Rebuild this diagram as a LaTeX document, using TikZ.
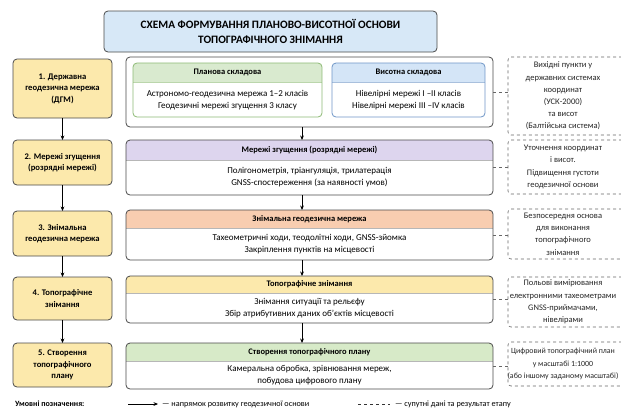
\documentclass[tikz,border=0pt]{standalone}
\usepackage{fontspec}
\setmainfont{Carlito}
\usetikzlibrary{arrows.meta,backgrounds,calc}
\definecolor{bordc}{HTML}{4A4A4A}
\definecolor{dashc}{HTML}{666666}
\definecolor{yel}{HTML}{FCE9AC}
\definecolor{titleblue}{HTML}{D7E8F7}
\definecolor{grhdr}{HTML}{D9EACF}
\definecolor{grbord}{HTML}{8DBA75}
\definecolor{blhdr}{HTML}{D4E5F7}
\definecolor{blbord}{HTML}{6F96C7}
\definecolor{puhdr}{HTML}{DDD5EE}
\definecolor{orhdr}{HTML}{F8CDB0}
\definecolor{yehdr}{HTML}{FCE9AC}
\definecolor{gehdr}{HTML}{D7EAC8}
\newcommand{\headband}[4]{%
  \begin{scope}[on background layer]
    \begin{scope}
    \clip[rounded corners=4pt] (#1.north west) rectangle (#1.south east);
    \fill[#3] (#1.north west) rectangle ($(#1.north east)+(0,#2)$);
    \draw[#4, line width=0.5pt] ($(#1.north west)+(0,#2)$) -- ($(#1.north east)+(0,#2)$);
    \end{scope}
  \end{scope}}
\begin{document}
\begin{tikzpicture}[x=1pt,y=-1pt,
  frame/.style={draw=bordc, line width=0.8pt, rounded corners=4pt, inner sep=0pt, outer sep=0pt},
  leftbox/.style={frame, fill=yel, minimum width=99pt, font=\bfseries\fontsize{8.6}{11.5}\selectfont, align=center},
  midbox/.style={frame, minimum width=367pt},
  hdr/.style={font=\bfseries\fontsize{8.5}{10}\selectfont, inner sep=0pt},
  body/.style={font=\fontsize{9}{12}\selectfont, align=center, inner sep=0pt},
  note/.style={font=\fontsize{8.5}{12.2}\selectfont, align=center, inner sep=0pt, text=black!85},
  dbox/.style={draw=dashc, dashed, line width=0.6pt, rounded corners=3pt, minimum width=117pt, inner sep=0pt, outer sep=0pt},
  flow/.style={-{Stealth[length=4.5pt,width=3.8pt]}, line width=0.9pt},
  link/.style={draw=dashc, dashed, line width=0.6pt},
  legend/.style={font=\fontsize{8.2}{9}\selectfont, inner sep=0pt}
]
\begin{scope}[on background layer]
\fill[white] (0,0) rectangle (621,416);
\end{scope}
\useasboundingbox (0,0) rectangle (621,416);

% title
\node[frame, fill=titleblue, minimum width=333pt, minimum height=41pt, align=center,
  font=\bfseries\fontsize{11.3}{15}\selectfont] (title) at (270.5,31.5)
  {СХЕМА ФОРМУВАННЯ ПЛАНОВО-ВИСОТНОЇ ОСНОВИ\\ТОПОГРАФІЧНОГО ЗНІМАННЯ};

% left column
\node[leftbox, minimum height=59pt] (L1) at (62.5,88.5) {1. Державна\\геодезична мережа\\(ДГМ)};
\node[leftbox, minimum height=45pt] (L2) at (62.5,162.5) {2. Мережі згущення\\(розрядні мережі)};
\node[leftbox, minimum height=45pt] (L3) at (62.5,233.5) {3. Знімальна\\геодезична мережа};
\node[leftbox, minimum height=43pt] (L4) at (62.5,298.5) {4. Топографічне\\знімання};
\node[leftbox, minimum height=44pt] (L5) at (62.5,365) {5. Створення\\топографічного\\плану};

\draw[flow] (L1.south) -- (L2.north);
\draw[flow] (L2.south) -- (L3.north);
\draw[flow] (L3.south) -- (L4.north);
\draw[flow] (L4.south) -- (L5.north);

% middle column
\node[midbox, minimum height=70pt] (A) at (309.5,92) {};
\node[frame, draw=grbord, minimum width=189pt, minimum height=54pt] (P) at (227.5,90) {};
\headband{P}{19}{grhdr}{grbord!60}
\node[hdr] (Ph) at (227.5,72.5) {Планова складова};
\node[body] (Pb) at (227.5,100) {Астрономо-геодезична мережа 1–2 класів\\Геодезичні мережі згущення 3 класу};
\node[frame, draw=blbord, minimum width=153pt, minimum height=54pt] (V) at (408.5,90) {};
\headband{V}{19}{blhdr}{blbord!60}
\node[hdr] (Vh) at (408.5,72.5) {Висотна складова};
\node[body] (Vb) at (408.5,100) {Нівелірні мережі I –II класів\\Нівелірні мережі III –IV класів};

\node[midbox, minimum height=55pt] (B) at (309.5,167.5) {};
\headband{B}{20}{puhdr}{bordc!40}
\node[hdr] (Bh) at (309.5,150) {Мережі згущення (розрядні мережі)};
\node[body] (Bb) at (309.5,177.5) {Полігонометрія, тріангуляція, трилатерація\\GNSS-спостереження (за наявності умов)};

\node[midbox, minimum height=50pt] (C) at (309.5,235) {};
\headband{C}{18}{orhdr}{bordc!40}
\node[hdr] (Ch) at (309.5,219) {Знімальна геодезична мережа};
\node[body] (Cb) at (309.5,244) {Тахеометричні ходи, теодолітні ходи, GNSS-зйомка\\Закріплення пунктів на місцевості};

\node[midbox, minimum height=47pt] (D) at (309.5,299.5) {};
\headband{D}{17}{yehdr}{bordc!40}
\node[hdr] (Dh) at (309.5,284.5) {Топографічне знімання};
\node[body] (Db) at (309.5,308) {Знімання ситуації та рельєфу\\Збір атрибутивних даних об’єктів місцевості};

\node[midbox, minimum height=46pt] (E) at (309.5,366) {};
\headband{E}{18}{gehdr}{bordc!40}
\node[hdr] (Eh) at (309.5,352) {Створення топографічного плану};
\node[body] (Eb) at (309.5,375) {Камеральна обробка, зрівнювання мереж,\\побудова цифрового плану};

\coordinate (mx) at (302,0);
\draw[flow] (A.south -| mx) -- (B.north -| mx);
\draw[flow] (B.south -| mx) -- (C.north -| mx);
\draw[flow] (C.south -| mx) -- (D.north -| mx);
\draw[flow] (D.south -| mx) -- (E.north -| mx);

% right column
\node[dbox, minimum height=78pt] (R1) at (566.5,96) {};
\node[note] (R1t) at (563,96) {Вихідні пункти у\\державних системах\\координат\\(УСК-2000)\\та висот\\(Балтійська система)};
\node[dbox, minimum height=54pt] (R2) at (566.5,167) {};
\node[note] (R2t) at (563,167) {Уточнення координат\\і висот.\\Підвищення густоти\\геодезичної основи};
\node[dbox, minimum height=50pt] (R3) at (566.5,234) {};
\node[note] (R3t) at (563,234) {Безпосередня основа\\для виконання\\топографічного\\знімання};
\node[dbox, minimum height=50pt] (R4) at (566.5,302) {};
\node[note] (R4t) at (563,302) {Польові вимірювання\\електронними тахеометрами\\GNSS-приймачами,\\нівелірами};
\node[dbox, minimum height=44pt] (R5) at (566.5,364) {};
\node[note, font=\fontsize{7.9}{12.2}\selectfont] (R5t) at (563,364) {Цифровий топографічний план\\у масштабі 1:1000\\(або іншому заданому масштабі)};

\draw[link] (A.east) -- (A.east -| R1.west);
\draw[link] (B.east) -- (B.east -| R2.west);
\draw[link] (C.east) -- (C.east -| R3.west);
\draw[link] (D.east) -- (D.east -| R4.west);
\draw[link] (E.east) -- (E.east -| R5.west);

% legend
\node[legend, font=\bfseries\fontsize{8}{9}\selectfont, anchor=west] (lg) at (15,404) {Умовні позначення:};
\coordinate (la1) at (128,404);
\coordinate (la2) at (158,404);
\draw[flow, line width=0.8pt] (la1) -- (la2);
\node[legend, anchor=west] (lgt1) at (162,404) {— напрямок розвитку геодезичної основи};
\coordinate (ld1) at (358,404);
\coordinate (ld2) at (390,404);
\draw[link, line width=0.8pt, draw=black!80] (ld1) -- (ld2);
\node[legend, anchor=west] (lgt2) at (395,404) {— супутні дані та результат етапу};
\end{tikzpicture}
\end{document}
